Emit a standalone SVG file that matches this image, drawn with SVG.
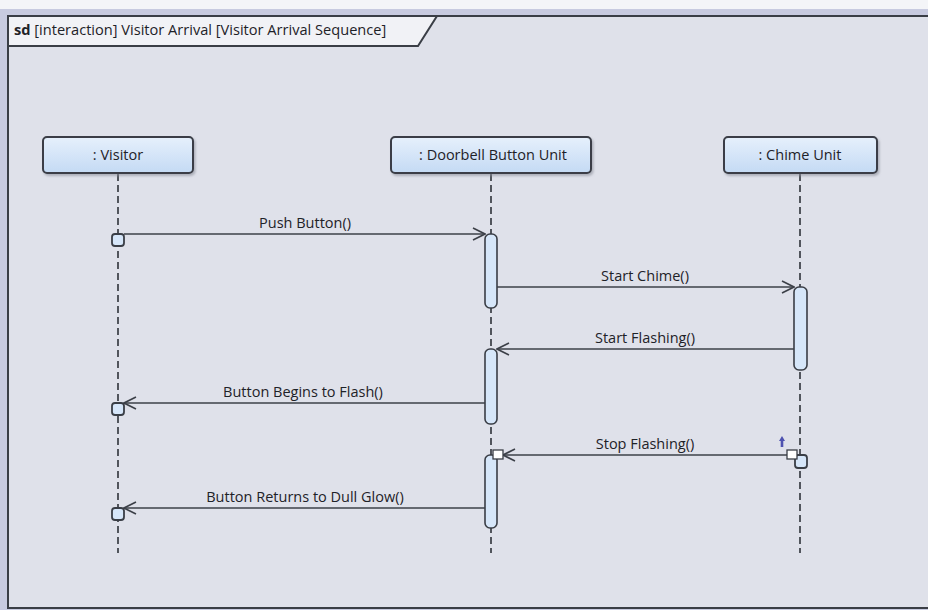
<svg xmlns="http://www.w3.org/2000/svg" width="928" height="610" viewBox="0 0 928 610">
  <defs>
    <linearGradient id="headFill" x1="0" y1="0" x2="0" y2="1">
      <stop offset="0" stop-color="#e6f0fc"/>
      <stop offset="1" stop-color="#c4daf4"/>
    </linearGradient>
    <marker id="open" viewBox="0 0 14 14" refX="13" refY="7" markerWidth="14" markerHeight="14" markerUnits="userSpaceOnUse" orient="auto">
      <path d="M1,1 L13,7 L1,13" fill="none" stroke="#3c4048" stroke-width="1.6"/>
    </marker>
    <filter id="shadow" x="-10%" y="-20%" width="130%" height="160%">
      <feDropShadow dx="1.5" dy="2" stdDeviation="1.2" flood-color="#8a8d99" flood-opacity="0.6"/>
    </filter>
  </defs>
  <style>
    text { font-family: "Open Sans", "Noto Sans", "Liberation Sans", sans-serif; fill: #1e2228; }
    .head { fill: url(#headFill); stroke: #3a3e46; stroke-width: 2; filter: url(#shadow); }
    .headText { font-size: 14.5px; text-anchor: middle; }
    .life { stroke: #2f333a; stroke-width: 1.6; stroke-dasharray: 7 4; fill: none; }
    .act { fill: #d6e6f9; stroke: #3a3e46; stroke-width: 1.6; }
    .exec { fill: #d6e6f9; stroke: #3a3e46; stroke-width: 1.8; }
    .msg { stroke: #3c4048; stroke-width: 1.6; fill: none; marker-end: url(#open); }
    .label { font-size: 14.5px; text-anchor: middle; }
    .gate { fill: #ffffff; stroke: #3a3e46; stroke-width: 1.3; }
  </style>

  <!-- page background and frame -->
  <rect x="0" y="0" width="928" height="610" fill="#f4f5f8"/>
  <rect x="0" y="9" width="928" height="601" fill="#c8cbe0"/>
  <rect x="8" y="16" width="925" height="592" fill="#dfe1ea" stroke="#3a3e46" stroke-width="2"/>

  <!-- frame header tab -->
  <g id="frame-header">
    <path d="M8,16 L437,16 L418,46 L8,46 Z" fill="#f1f2f6" stroke="#3a3e46" stroke-width="2"/>
    <text x="14" y="35" font-size="14.6px"><tspan font-weight="bold">sd</tspan> [interaction] Visitor Arrival [Visitor Arrival Sequence]</text>
  </g>

  <!-- lifelines -->
  <g id="visitor">
    <line class="life" x1="118" y1="174" x2="118" y2="553"/>
    <rect class="head" x="43" y="137" width="150" height="36" rx="4"/>
    <text class="headText" x="118" y="160">: Visitor</text>
    <rect class="exec" x="112" y="234" width="12" height="12" rx="3"/>
    <rect class="exec" x="112" y="403" width="12" height="12" rx="3"/>
    <rect class="exec" x="112" y="508" width="12" height="12" rx="3"/>
  </g>

  <g id="doorbell">
    <line class="life" x1="491" y1="174" x2="491" y2="553"/>
    <rect class="head" x="391" y="137" width="200" height="36" rx="4"/>
    <text class="headText" x="493" y="160">: Doorbell Button Unit</text>
    <rect class="act" x="485" y="234" width="12" height="74" rx="5"/>
    <rect class="act" x="485" y="349" width="12" height="75" rx="5"/>
    <rect class="act" x="485" y="455" width="12" height="73" rx="5"/>
  </g>

  <g id="chime">
    <line class="life" x1="800" y1="174" x2="800" y2="553"/>
    <rect class="head" x="724" y="137" width="153" height="36" rx="4"/>
    <text class="headText" x="800" y="160">: Chime Unit</text>
    <rect class="act" x="794" y="287" width="13" height="83" rx="5"/>
    <rect class="exec" x="795" y="455" width="12" height="13" rx="3"/>
  </g>

  <!-- messages -->
  <g id="connectors">
    <line class="msg" x1="124" y1="234" x2="485" y2="234"/>
    <text class="label" x="305" y="228">Push Button()</text>

    <line class="msg" x1="497" y1="287" x2="794" y2="287"/>
    <text class="label" x="645" y="281">Start Chime()</text>

    <line class="msg" x1="794" y1="349" x2="497" y2="349"/>
    <text class="label" x="645" y="343">Start Flashing()</text>

    <line class="msg" x1="485" y1="403" x2="124" y2="403"/>
    <text class="label" x="303" y="397">Button Begins to Flash()</text>

    <line class="msg" x1="792" y1="455" x2="503" y2="455"/>
    <text class="label" x="645" y="449">Stop Flashing()</text>
    <rect class="gate" x="787" y="450" width="10" height="9"/>
    <rect class="gate" x="493" y="450" width="10" height="9"/>
    <path d="M782,436 L785,441 L783.3,441 L783.3,447 L780.7,447 L780.7,441 L779,441 Z" fill="#4e52b0"/>

    <line class="msg" x1="485" y1="508" x2="124" y2="508"/>
    <text class="label" x="305" y="502">Button Returns to Dull Glow()</text>
  </g>
</svg>
